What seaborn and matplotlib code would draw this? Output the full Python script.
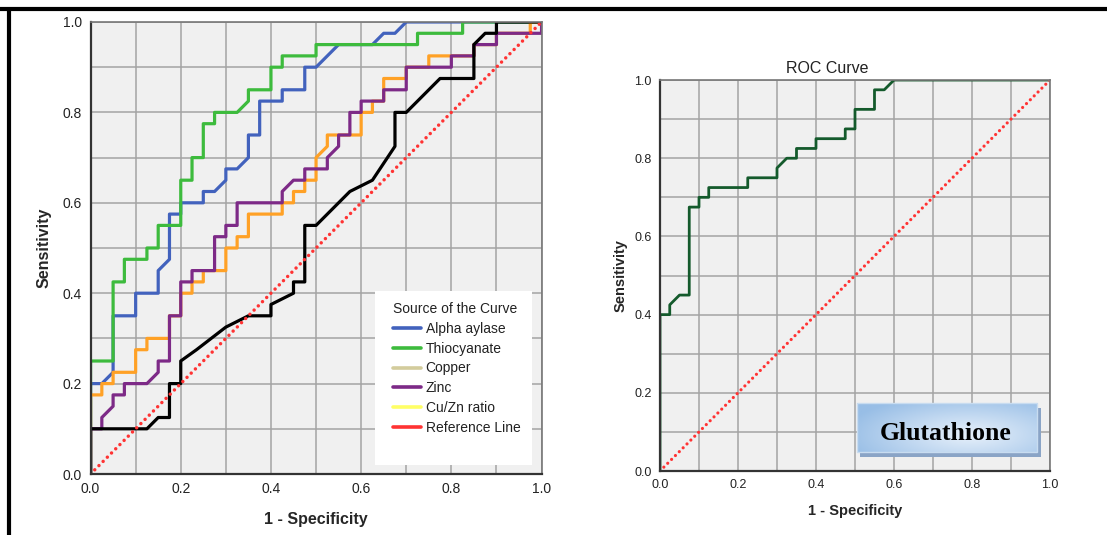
import numpy as np
import pandas as pd
import seaborn as sns
from matplotlib import pyplot as plt
from matplotlib.lines import Line2D
from matplotlib.patches import Rectangle

# ROC vertices: (1 - specificity, sensitivity)
alpha_aylase = [(0, 0), (0, 0.2), (0.025, 0.2), (0.05, 0.225), (0.05, 0.35), (0.1, 0.35),
                (0.1, 0.4), (0.15, 0.4), (0.15, 0.45), (0.175, 0.475), (0.175, 0.575),
                (0.2, 0.575), (0.2, 0.6), (0.25, 0.6), (0.25, 0.625), (0.275, 0.625),
                (0.3, 0.65), (0.3, 0.675), (0.325, 0.675), (0.35, 0.7), (0.35, 0.75),
                (0.375, 0.75), (0.375, 0.825), (0.425, 0.825), (0.425, 0.85), (0.475, 0.85),
                (0.475, 0.9), (0.5, 0.9), (0.55, 0.95), (0.625, 0.95), (0.65, 0.975),
                (0.675, 0.975), (0.7, 1.0), (1.0, 1.0)]
thiocyanate = [(0, 0), (0, 0.25), (0.05, 0.25), (0.05, 0.425), (0.075, 0.425), (0.075, 0.475),
               (0.125, 0.475), (0.125, 0.5), (0.15, 0.5), (0.15, 0.55), (0.2, 0.55), (0.2, 0.65),
               (0.225, 0.65), (0.225, 0.7), (0.25, 0.7), (0.25, 0.775), (0.275, 0.775),
               (0.275, 0.8), (0.325, 0.8), (0.35, 0.825), (0.35, 0.85), (0.4, 0.85), (0.4, 0.9),
               (0.425, 0.9), (0.425, 0.925), (0.5, 0.925), (0.5, 0.95), (0.725, 0.95),
               (0.725, 0.975), (0.825, 0.975), (0.825, 1.0), (1.0, 1.0)]
copper = [(0, 0), (0, 0.175), (0.025, 0.175), (0.025, 0.2), (0.05, 0.2), (0.05, 0.225),
          (0.1, 0.225), (0.1, 0.275), (0.125, 0.275), (0.125, 0.3), (0.175, 0.3), (0.175, 0.35),
          (0.2, 0.35), (0.2, 0.4), (0.225, 0.4), (0.225, 0.425), (0.25, 0.425), (0.25, 0.45),
          (0.3, 0.45), (0.3, 0.5), (0.325, 0.5), (0.325, 0.525), (0.35, 0.525), (0.35, 0.575),
          (0.425, 0.575), (0.425, 0.6), (0.45, 0.6), (0.45, 0.625), (0.475, 0.625),
          (0.475, 0.65), (0.5, 0.65), (0.5, 0.7), (0.525, 0.725), (0.525, 0.75), (0.6, 0.75),
          (0.6, 0.8), (0.625, 0.8), (0.625, 0.825), (0.65, 0.825), (0.65, 0.875), (0.7, 0.875),
          (0.7, 0.9), (0.75, 0.9), (0.75, 0.925), (0.85, 0.925), (0.85, 0.95), (0.9, 0.95),
          (0.9, 0.975), (0.975, 0.975), (0.975, 1.0), (1.0, 1.0)]
zinc = [(0, 0), (0, 0.1), (0.025, 0.1), (0.025, 0.125), (0.05, 0.15), (0.05, 0.175),
        (0.075, 0.175), (0.075, 0.2), (0.125, 0.2), (0.15, 0.225), (0.15, 0.25), (0.175, 0.25),
        (0.175, 0.35), (0.2, 0.35), (0.2, 0.425), (0.225, 0.425), (0.225, 0.45), (0.275, 0.45),
        (0.275, 0.525), (0.3, 0.525), (0.3, 0.55), (0.325, 0.55), (0.325, 0.6), (0.425, 0.6),
        (0.425, 0.625), (0.45, 0.65), (0.475, 0.65), (0.475, 0.675), (0.525, 0.675),
        (0.525, 0.7), (0.55, 0.725), (0.55, 0.75), (0.575, 0.75), (0.575, 0.8), (0.6, 0.8),
        (0.6, 0.825), (0.65, 0.825), (0.65, 0.85), (0.7, 0.85), (0.7, 0.9), (0.8, 0.9),
        (0.8, 0.925), (0.85, 0.925), (0.85, 0.95), (0.9, 0.95), (0.9, 0.975), (1.0, 0.975),
        (1.0, 1.0)]
cu_zn_ratio = [(0, 0), (0, 0.1), (0.125, 0.1), (0.15, 0.125), (0.175, 0.125), (0.175, 0.2),
               (0.2, 0.2), (0.2, 0.25), (0.235, 0.275), (0.3, 0.325), (0.35, 0.35), (0.4, 0.35),
               (0.4, 0.375), (0.45, 0.4), (0.45, 0.425), (0.475, 0.425), (0.475, 0.55),
               (0.5, 0.55), (0.575, 0.625), (0.625, 0.65), (0.675, 0.725), (0.675, 0.8),
               (0.7, 0.8), (0.775, 0.875), (0.85, 0.875), (0.85, 0.95), (0.875, 0.975),
               (0.9, 0.975), (0.9, 1.0), (1.0, 1.0)]
glutathione = [(0, 0), (0, 0.4), (0.025, 0.4), (0.025, 0.425), (0.05, 0.45), (0.075, 0.45),
               (0.075, 0.675), (0.1, 0.675), (0.1, 0.7), (0.125, 0.7), (0.125, 0.725),
               (0.225, 0.725), (0.225, 0.75), (0.3, 0.75), (0.3, 0.775), (0.325, 0.8),
               (0.35, 0.8), (0.35, 0.825), (0.4, 0.825), (0.4, 0.85), (0.475, 0.85),
               (0.475, 0.875), (0.5, 0.875), (0.5, 0.925), (0.55, 0.925), (0.55, 0.975),
               (0.575, 0.975), (0.6, 1.0), (1.0, 1.0)]
reference = [(0, 0), (1, 1)]

curve_names = ["Alpha aylase", "Thiocyanate", "Copper", "Zinc", "Cu/Zn ratio"]
curve_points = [alpha_aylase, thiocyanate, copper, zinc, cu_zn_ratio]
curve_colors = ["#4262bd", "#3dbb3d", "#ffa126", "#7d2a87", "#000000"]
legend_names = curve_names + ["Reference Line"]
legend_colors = ["#4262bd", "#3dbb3d", "#d3cc9c", "#7d2a87", "#ffff66", "#ff3333"]
major_ticks = [0.0, 0.2, 0.4, 0.6, 0.8, 1.0]
tick_labels = ["0.0", "0.2", "0.4", "0.6", "0.8", "1.0"]
minor_ticks = [0.1, 0.3, 0.5, 0.7, 0.9]


def to_frame(points, name):
    df = pd.DataFrame(points, columns=["fpr", "tpr"])
    df["Source"] = name
    return df


left_data = pd.concat([to_frame(p, n) for p, n in zip(curve_points, curve_names)],
                      ignore_index=True)
gluta_data = to_frame(glutathione, "Glutathione")
ref_data = to_frame(reference, "Reference Line")

sns.set_theme(style="whitegrid")
plt.rcParams["font.family"] = ["Liberation Sans", "DejaVu Sans"]

fig = plt.figure(figsize=(11.07, 5.35), dpi=100)
ax1 = fig.add_axes([0.0818, 0.114, 0.4074, 0.8449])
ax2 = fig.add_axes([0.5962, 0.1196, 0.3523, 0.7308])


def style_axes(ax, tick_size):
    ax.set_facecolor("#f0f0f0")
    ax.set_xlim(0, 1)
    ax.set_ylim(0, 1)
    ax.set_xticks(major_ticks, tick_labels)
    ax.set_yticks(major_ticks, tick_labels)
    ax.set_xticks(minor_ticks, minor=True)
    ax.set_yticks(minor_ticks, minor=True)
    ax.grid(True, which="both", color="#a4a4a4", lw=1.1)
    ax.set_axisbelow(True)
    ax.tick_params(which="major", direction="out", length=4, width=1.2, color="#333333",
                   labelsize=tick_size, labelcolor="#222222", pad=2)
    ax.tick_params(which="minor", length=0)
    for side in ["left", "bottom"]:
        ax.spines[side].set(color="#333333", lw=1.6, visible=True)
    for side in ["top", "right"]:
        ax.spines[side].set(color="#777777", lw=1.2, visible=True)


def dotted(line, width):
    line.set_linewidth(width)
    line.set_linestyle((0, (0.01, 1.7)))
    line.set_dash_capstyle("round")


# left panel: five markers
sns.lineplot(data=left_data, x="fpr", y="tpr", hue="Source", hue_order=curve_names,
             palette=curve_colors, estimator=None, sort=False, lw=2.3, legend=False, ax=ax1)
sns.lineplot(data=ref_data, x="fpr", y="tpr", color="#ff3333", estimator=None, sort=False,
             ax=ax1)
dotted(ax1.lines[-1], 2.5)
style_axes(ax1, 10)
ax1.set_xlabel("1 - Specificity", fontsize=11.5, fontweight="bold", labelpad=11)
ax1.set_ylabel("Sensitivity", fontsize=11.5, fontweight="bold", labelpad=8)

ax1.add_patch(Rectangle((0.631, 0.02), 0.348, 0.385, transform=ax1.transAxes,
                        facecolor="white", edgecolor="none", zorder=3))
handles = [Line2D([], [], color=c, lw=2.6) for c in legend_colors]
leg = ax1.legend(handles, legend_names, title="Source of the Curve", loc="upper left",
                 bbox_to_anchor=(0.655, 0.396), frameon=False, fontsize=10,
                 title_fontsize=10, handlelength=2.0, handletextpad=0.35,
                 labelspacing=0.42, borderpad=0, alignment="left")
leg.set_zorder(6)
for t in leg.get_texts():
    t.set_color("#222222")
leg.get_title().set_color("#222222")

# right panel: glutathione
sns.lineplot(data=gluta_data, x="fpr", y="tpr", color="#145a2c", estimator=None, sort=False,
             lw=2.0, ax=ax2)
sns.lineplot(data=ref_data, x="fpr", y="tpr", color="#ff3333", estimator=None, sort=False,
             ax=ax2)
dotted(ax2.lines[-1], 2.3)
style_axes(ax2, 9)
ax2.set_xlabel("1 - Specificity", fontsize=10.5, fontweight="bold", labelpad=9)
ax2.set_ylabel("Sensitivity", fontsize=10.5, fontweight="bold", labelpad=4.5)
ax2.set_title("ROC Curve", fontsize=11.5, color="#222222", x=0.43, pad=5)

# label box with shadow and soft blue gradient
bx, by, bw, bh = 0.505, 0.049, 0.462, 0.125
ax2.add_patch(Rectangle((bx + 0.009, by - 0.014), bw, bh, transform=ax2.transAxes,
                        facecolor="#8aa4c6", edgecolor="none", zorder=4))
u, v = np.meshgrid(np.linspace(0, 1, 200), np.linspace(0, 1, 60))
t = np.clip(1 - np.sqrt(((u - 0.62) / 0.7) ** 2 + ((v - 0.35) / 0.85) ** 2), 0, 1)
dark = np.array([0x98, 0xbe, 0xe6]) / 255
light = np.array([0xe8, 0xf1, 0xfb]) / 255
grad = dark + (light - dark) * t[..., None]
ax2.imshow(grad, extent=(bx, bx + bw, by, by + bh), origin="lower", aspect="auto",
           zorder=5, transform=ax2.transAxes)
ax2.add_patch(Rectangle((bx, by), bw, bh, transform=ax2.transAxes, facecolor="none",
                        edgecolor="#c8dcf0", lw=1.0, zorder=6))
ax2.text(0.733, 0.079, "Glutathione", transform=ax2.transAxes, ha="center", va="baseline",
         fontsize=18.5, fontweight="bold", family=["Liberation Serif", "DejaVu Serif"],
         color="black", zorder=7)
ax2.set_xlim(0, 1)
ax2.set_ylim(0, 1)

# frame lines of the source figure
fig.add_artist(Line2D([0, 1], [0.9825, 0.9825], transform=fig.transFigure, color="black", lw=3))
fig.add_artist(Line2D([0.0077, 0.0077], [0, 0.9825], transform=fig.transFigure,
                      color="black", lw=3))

fig.savefig("out.png", dpi=100)
